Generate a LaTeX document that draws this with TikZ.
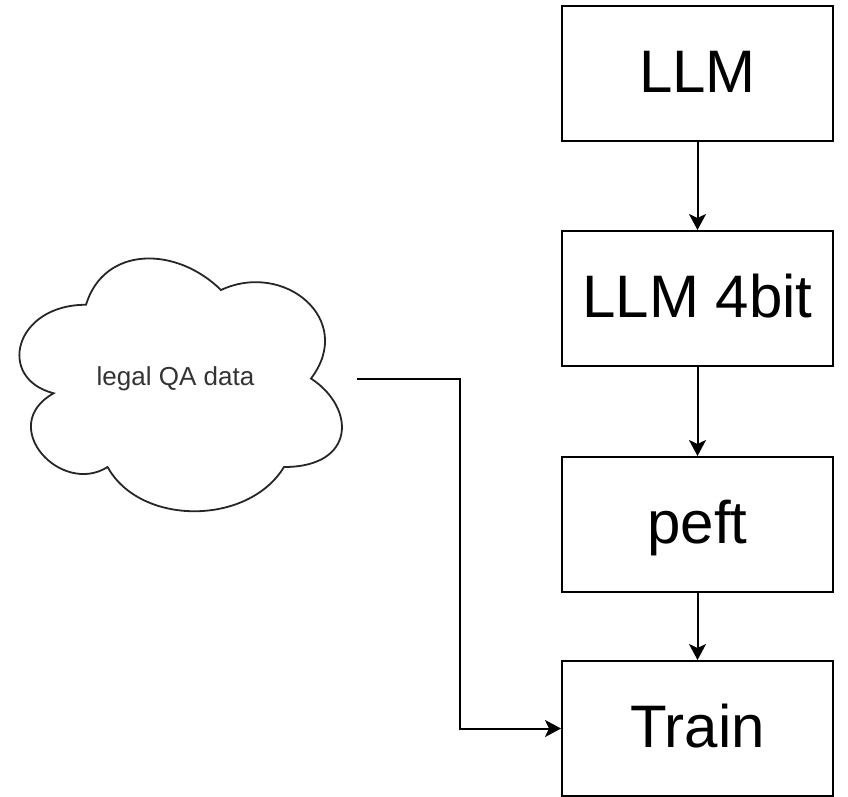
\documentclass[tikz,border=0pt]{standalone}
\usepackage{fontspec}
\setmainfont{Liberation Sans}
\usetikzlibrary{arrows.meta}

\tikzset{
  stepbox/.style={draw=black, line width=2pt, fill=white, inner sep=0pt,
    minimum width=271pt, minimum height=135pt,
    font=\fontsize{60}{60}\selectfont, text height=43pt, text depth=5pt},
  flow/.style={draw=black, line width=2pt,
    -{Stealth[length=16pt, width=17pt, inset=4pt]}},
  cloudline/.style={draw=black!85, line width=1.8pt},
  cloudtext/.style={inner sep=0pt, minimum width=363pt, minimum height=295pt,
    text=black!80, font=\fontsize{26}{26}\selectfont},
}

\begin{document}
\begin{tikzpicture}[x=1pt, y=-1pt]
  \useasboundingbox (0,0) rectangle (848,796);

  % cloud outline, drawn in its own unit box (363 x 295)
  \begin{scope}[xshift=-4pt, yshift=-231pt, x=360pt, y=-295pt]
    \draw[cloudline] (0.25,0.25)
      .. controls (0.05,0.25) and (0,0.5) .. (0.16,0.55)
      .. controls (0,0.66) and (0.18,0.9) .. (0.31,0.8)
      .. controls (0.4,1) and (0.7,1) .. (0.8,0.8)
      .. controls (1,0.8) and (1,0.6) .. (0.875,0.5)
      .. controls (1,0.3) and (0.8,0.1) .. (0.625,0.2)
      .. controls (0.5,0.05) and (0.3,0.05) .. (0.25,0.25) -- cycle;
  \end{scope}
  \node[cloudtext] (data) at (175.5,378.5) {legal QA data};

  % processing chain
  \node[stepbox] (llm)   at (697.5,73)    {LLM};
  \node[stepbox] (bit4)  at (697.5,298.5) {LLM 4bit};
  \node[stepbox] (peft)  at (697.5,524.5) {peft};
  \node[stepbox] (train) at (697.5,728.5) {Train};

  \draw[flow] (llm) -- (bit4);
  \draw[flow] (bit4) -- (peft);
  \draw[flow] (peft) -- (train);

  % data feed into training
  \coordinate (elbow) at (460,378.5);
  \draw[flow] (data.east) -- (elbow) |- (train.west);
\end{tikzpicture}
\end{document}
